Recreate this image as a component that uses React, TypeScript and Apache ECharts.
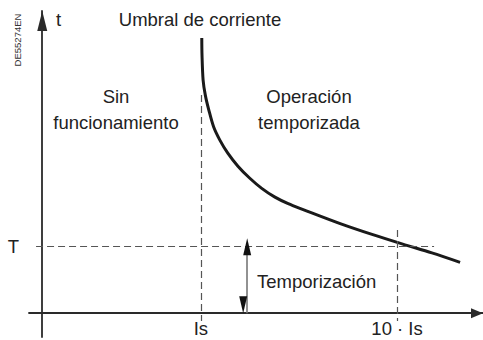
import React, { useEffect, useRef } from "react";
import * as echarts from "echarts";

// Trip curve (arbitrary units: x = current, y = time)
const curveX = [36.2, 36.25, 36.5, 37.0, 37.8, 38.9, 40.3, 42.1, 44.4, 47.1, 49.8, 52.8, 55.8, 59.2, 67.6, 75.0, 81.8, 88.4, 94.8];
const curveY = [84.4, 79.2, 71.5, 66.9, 62.3, 57.1, 53.1, 49.1, 45.1, 41.4, 38.3, 35.6, 33.6, 31.8, 27.5, 24.1, 21.2, 18.5, 15.6];

// Tick positions and labels
const xTickValues = [36.0, 80.5];
const xTickLabels = ["Is", "10 · Is"];
const yTickValues = [20.4];
const yTickLabels = ["T"];

// Guide lines
const isGuideTop = 66.9;
const tenIsGuideTop = 25.5;
const guideBottom = -2.4;
const tGuideStart = -1.4;
const tGuideEnd = 88.9;
const delayArrowX = 46.5;

const X_MIN = -3;
const X_MAX = 100;
const Y_MIN = -7.3;
const Y_MAX = 92.7;

const FONT = "'Liberation Sans', Arial, Helvetica, sans-serif";
const TEXT_COLOR = "#222";
const AXIS_COLOR = "#2a2a2a";
const DASH_COLOR = "#555";
const FS = 18.5;

export default function App() {
  const ref = useRef<HTMLDivElement>(null);
  useEffect(() => {
    if (!ref.current) return;
    const chart = echarts.init(ref.current, undefined, { renderer: "svg" });
    const curve = curveX.map((x, i) => [x, curveY[i]]);
    const dashStyle = { color: DASH_COLOR, width: 1.2, type: [7, 4] as number[] };
    const arrowSeg = [[{ coord: [delayArrowX, yTickValues[0]] }, { coord: [delayArrowX, 0] }]];
    chart.setOption({
      animation: false,
      backgroundColor: "#fff",
      textStyle: { fontFamily: FONT },
      grid: { left: 29, right: 0, top: 11, bottom: 3, containLabel: false, outerBoundsMode: "none" },
      xAxis: {
        type: "value",
        min: X_MIN,
        max: X_MAX,
        splitLine: { show: false },
        axisTick: { show: false },
        axisLine: {
          show: true,
          onZero: true,
          symbol: ["none", "triangle"],
          symbolSize: [10, 12],
          symbolOffset: [0, -6],
          lineStyle: { color: AXIS_COLOR, width: 1.8 },
        },
        axisLabel: {
          show: true,
          customValues: xTickValues,
          formatter: (v: number) => {
            const i = xTickValues.indexOf(v);
            return i >= 0 ? xTickLabels[i] : "";
          },
          margin: -18,
          fontSize: FS,
          color: TEXT_COLOR,
          fontFamily: FONT,
        },
      },
      yAxis: {
        type: "value",
        min: Y_MIN,
        max: Y_MAX,
        splitLine: { show: false },
        axisTick: { show: false },
        axisLine: {
          show: true,
          onZero: true,
          symbol: ["none", "triangle"],
          symbolSize: [10, 20],
          symbolOffset: [0, -10],
          lineStyle: { color: AXIS_COLOR, width: 1.8 },
        },
        axisLabel: {
          show: true,
          customValues: yTickValues,
          formatter: (v: number) => {
            const i = yTickValues.indexOf(v);
            return i >= 0 ? yTickLabels[i] : "";
          },
          margin: 10,
          fontSize: FS,
          color: TEXT_COLOR,
          fontFamily: FONT,
        },
      },
      series: [
        {
          type: "line",
          z: 1,
          data: [],
          silent: true,
          markLine: {
            silent: true,
            symbol: ["none", "none"],
            label: { show: false },
            lineStyle: dashStyle,
            data: [
              [{ coord: [xTickValues[0], isGuideTop] }, { coord: [xTickValues[0], guideBottom] }],
              [{ coord: [xTickValues[1], tenIsGuideTop] }, { coord: [xTickValues[1], guideBottom] }],
              [{ coord: [tGuideStart, yTickValues[0]] }, { coord: [tGuideEnd, yTickValues[0]] }],
            ],
          },
        },
        {
          type: "line",
          z: 2,
          data: [],
          silent: true,
          markLine: {
            silent: true,
            symbol: ["none", "none"],
            label: { show: false },
            lineStyle: { color: "#777", width: 1.6, type: "solid" },
            data: arrowSeg,
          },
        },
        {
          type: "line",
          z: 2,
          data: [],
          silent: true,
          markLine: {
            silent: true,
            symbol: ["triangle", "triangle"],
            symbolSize: [8, 17],
            symbolOffset: [0, "50%"],
            label: { show: false },
            lineStyle: { color: "#111", width: 0.01, type: "solid" },
            data: arrowSeg,
          },
        },
        {
          type: "line",
          z: 3,
          data: curve,
          showSymbol: false,
          smooth: 0.3,
          silent: true,
          lineStyle: { color: "#1a1a1a", width: 3 },
        },
      ],
      graphic: [
        {
          type: "text",
          x: 17,
          y: 40,
          rotation: Math.PI / 2,
          style: { text: "DE55274EN", fontSize: 9.5, fill: "#333", fontFamily: FONT, align: "center", verticalAlign: "middle" },
        },
        {
          type: "text",
          x: 56,
          y: 19,
          style: { text: "t", fontSize: FS, fill: TEXT_COLOR, fontFamily: FONT, align: "left", verticalAlign: "middle" },
        },
        {
          type: "text",
          x: 200,
          y: 19,
          style: { text: "Umbral de corriente", fontSize: FS, fill: TEXT_COLOR, fontFamily: FONT, align: "center", verticalAlign: "middle" },
        },
        {
          type: "text",
          x: 116,
          y: 109,
          style: { text: "Sin\nfuncionamiento", fontSize: FS, lineHeight: 26, fill: TEXT_COLOR, fontFamily: FONT, align: "center", verticalAlign: "middle" },
        },
        {
          type: "text",
          x: 309,
          y: 109,
          style: { text: "Operación\ntemporizada", fontSize: FS, lineHeight: 26, fill: TEXT_COLOR, fontFamily: FONT, align: "center", verticalAlign: "middle" },
        },
        {
          type: "text",
          x: 257,
          y: 281,
          style: { text: "Temporización", fontSize: FS, fill: TEXT_COLOR, fontFamily: FONT, align: "left", verticalAlign: "middle" },
        },
      ],
    });
    return () => chart.dispose();
  }, []);
  return <div ref={ref} style={{ width: 483, height: 340, position: "absolute", left: 0, top: 0 }} />;
}
